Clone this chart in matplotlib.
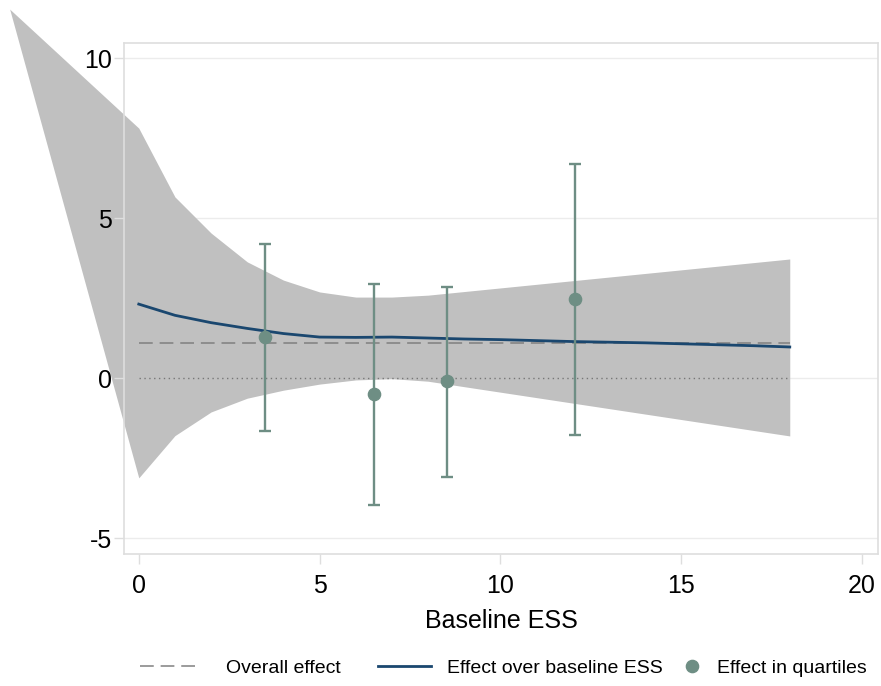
import numpy as np
import matplotlib.pyplot as plt
from matplotlib.lines import Line2D

plt.rcParams['font.family'] = ['Liberation Sans', 'DejaVu Sans']

# confidence band of the effect over baseline ESS (first vertex lies outside the plot region)
band_x = [-3.57, 0, 1, 2, 3, 4, 5, 6, 7, 8, 18]
band_hi = [11.53, 7.81, 5.66, 4.53, 3.63, 3.06, 2.69, 2.53, 2.53, 2.59, 3.72]
band_lo = [11.53, -3.12, -1.80, -1.06, -0.63, -0.38, -0.19, -0.06, -0.02, -0.10, -1.81]

# effect over baseline ESS
ess = [0, 1, 2, 3, 4, 5, 6, 7, 8, 9, 10, 11, 12, 13, 14, 15, 16, 17, 18]
effect = [2.31, 1.96, 1.73, 1.55, 1.39, 1.28, 1.27, 1.28, 1.25, 1.22, 1.20, 1.17, 1.14, 1.12, 1.10, 1.07, 1.04, 1.01, 0.97]

overall = 1.1

# effect in quartiles
q_x = [3.49, 6.5, 8.52, 12.06]
q_est = [1.28, -0.5, -0.09, 2.47]
q_lo = [-1.66, -3.97, -3.09, -1.78]
q_hi = [4.19, 2.94, 2.84, 6.69]

navy = '#1a476f'
teal = '#6e8e84'
dash_col = '#808080'
dash_style = (0, (9, 4.5))

fig = plt.figure(figsize=(8.81, 6.86), dpi=100)
ax = fig.add_axes([0.1407, 0.1924, 0.8559, 0.7449])

ax.fill_between(band_x, band_lo, band_hi, color='#c0c0c0', lw=0, clip_on=False, zorder=1)
ax.plot([0, 18], [0, 0], color='#777777', lw=1, ls=(0, (1, 2.5)), zorder=2)
ax.plot([0, 18], [overall, overall], color=dash_col, lw=1.1, ls=dash_style, zorder=3)
ax.plot(ess, effect, color=navy, lw=2, zorder=4)

q_est = np.array(q_est)
yerr = [q_est - np.array(q_lo), np.array(q_hi) - q_est]
ax.errorbar(q_x, q_est, yerr=yerr, fmt='o', color=teal, ms=8.8, elinewidth=1.7,
            capsize=4, capthick=1.7, zorder=5)

ax.set_xlim(-0.41, 20.44)
ax.set_ylim(-5.5, 10.47)
ax.set_xticks([0, 5, 10, 15, 20])
ax.set_yticks([-5, 0, 5, 10])
ax.set_yticklabels(['-5', '0', '5', '10'])
# horizontal grid under the band, ticks and frame above it
for yv in ax.get_yticks():
    ax.axhline(yv, color='#ececec', lw=1, zorder=0.5)
for s in ax.spines.values():
    s.set_color('#dedede')
    s.set_linewidth(1.2)
ax.tick_params(axis='both', length=7.5, width=1, color='#dedede', labelsize=18)
ax.tick_params(axis='y', pad=1)
ax.tick_params(axis='x', pad=7)
ax.set_xlabel('Baseline ESS', fontsize=18, labelpad=8)

fs = 14
leg_specs = [
    (Line2D([], [], color=dash_col, lw=1.1, ls=dash_style), 'Overall effect', 0.159, 3.1, 1.3),
    (Line2D([], [], color=navy, lw=2), 'Effect over baseline ESS', 0.429, 2.73, 0.82),
    (Line2D([], [], color=teal, marker='o', ls='none', ms=8.8), 'Effect in quartiles', 0.774, 1.0, 0.78),
]
for h, lab, x0, hl, hp in leg_specs:
    fig.legend([h], [lab], loc='center left', bbox_to_anchor=(x0, 0.026), frameon=False,
               fontsize=fs, handlelength=hl, handletextpad=hp, borderpad=0, borderaxespad=0)

fig.savefig('out.png', dpi=100)
